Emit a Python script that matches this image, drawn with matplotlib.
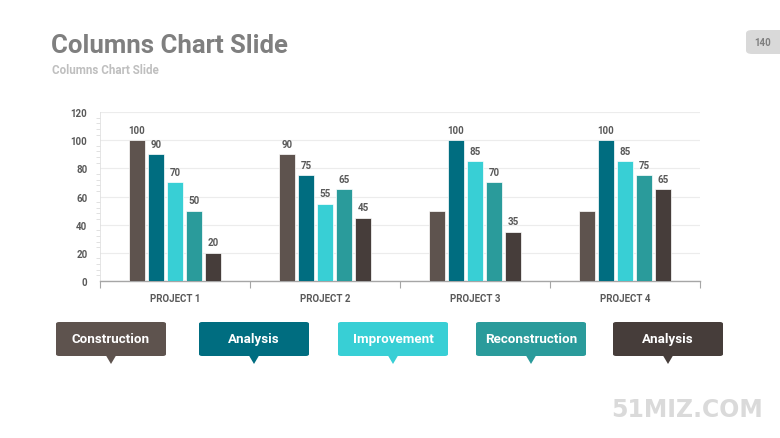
import numpy as np
import matplotlib.pyplot as plt
from matplotlib.patches import FancyBboxPatch, Polygon

projects = ['PROJECT 1', 'PROJECT 2', 'PROJECT 3', 'PROJECT 4']
series_names = ['Construction', 'Analysis', 'Improvement', 'Reconstruction', 'Analysis']
values = [
    [100, 90, 50, 50],
    [90, 75, 100, 100],
    [70, 55, 85, 85],
    [50, 65, 70, 75],
    [20, 45, 35, 65],
]
# the first series has no labels on projects 3 and 4
show_label = [
    [True, True, False, False],
    [True, True, True, True],
    [True, True, True, True],
    [True, True, True, True],
    [True, True, True, True],
]
colors = ['#5e534e', '#006d80', '#38cfd5', '#2a9b9b', '#463d3a']

plt.rcParams['font.family'] = ['Roboto', 'DejaVu Sans']

fig = plt.figure(figsize=(7.8, 4.39), dpi=100)
ax = fig.add_axes([100 / 780, 1 - 282 / 439, 600 / 780, 169 / 439])

x = np.arange(len(projects))
step = 0.127
width = 0.108
for i, vals in enumerate(values):
    pos = x + (i - 2) * step
    ax.bar(pos, vals, width=width, color=colors[i], edgecolor='white', linewidth=0.5, zorder=3)
    for p, v, s in zip(pos, vals, show_label[i]):
        if s:
            ax.text(p, v + 4, str(v), ha='center', va='bottom', fontsize=7,
                    fontweight='bold', color='#595959')

ax.set_xlim(-0.5, 3.5)
ax.set_ylim(0, 120)
ax.set_yticks(range(0, 121, 20))
ax.set_yticks(range(0, 121, 4), minor=True)
ax.yaxis.grid(True, color='#ececec', linewidth=0.8, zorder=0)
ax.tick_params(axis='y', which='major', length=0, labelsize=7, labelcolor='#595959', pad=9)
ax.tick_params(axis='y', which='minor', length=3, color='#dcdcdc', width=0.6)
for lab in ax.get_yticklabels():
    lab.set_fontweight('bold')

ax.set_xticks(x)
ax.set_xticklabels(projects, fontsize=7, fontweight='bold', color='#595959')
ax.tick_params(axis='x', which='major', length=0, pad=9)
ax.set_xticks(np.arange(-0.5, 4, 1), minor=True)
ax.tick_params(axis='x', which='minor', length=5, color='#a6a6a6', width=0.8)

for side in ['top', 'right']:
    ax.spines[side].set_visible(False)
ax.spines['left'].set_color('#e0e0e0')
ax.spines['left'].set_linewidth(0.6)
ax.spines['bottom'].set_color('#a6a6a6')
ax.spines['bottom'].set_linewidth(1.0)

# title area
fig.text(51 / 780, 1 - 46 / 439, 'Columns Chart Slide', fontsize=18.5, fontweight='bold',
         color='#7f7f7f', va='center', ha='left')
fig.text(52 / 780, 1 - 70 / 439, 'Columns Chart Slide', fontsize=8.4, fontweight='bold',
         color='#bfbfbf', va='center', ha='left')

# page number tag
fig.patches.append(FancyBboxPatch((746 / 780, 1 - 55 / 439), 40 / 780, 24 / 439,
                                  boxstyle='round,pad=0,rounding_size=0.008',
                                  transform=fig.transFigure, facecolor='#d9d9d9',
                                  edgecolor='none'))
fig.text(763 / 780, 1 - 43 / 439, '140', fontsize=7, fontweight='bold',
         color='#7f7f7f', va='center', ha='center')

# callout labels
box_left = [56, 199, 338, 476, 613]
for left, name, c in zip(box_left, series_names, colors):
    bx = left / 780
    by = 1 - 357 / 439
    bw = 110 / 780
    bh = 34 / 439
    fig.patches.append(FancyBboxPatch((bx, by), bw, bh,
                                      boxstyle='round,pad=0,rounding_size=0.004',
                                      transform=fig.transFigure, facecolor=c,
                                      edgecolor='none'))
    cx = bx + bw / 2
    tri = Polygon([(cx - 5 / 780, by + 0.001), (cx + 5 / 780, by + 0.001),
                   (cx, 1 - 365 / 439)], closed=True, transform=fig.transFigure,
                  facecolor=c, edgecolor='none')
    fig.patches.append(tri)
    fig.text(cx, by + bh / 2, name, fontsize=9.6, fontweight='bold', color='white',
             ha='center', va='center')

# watermark
fig.text(687 / 780, 1 - 410 / 439, '51MIZ.COM', fontsize=17, fontweight='bold',
         color='#dadada', ha='center', va='center', family='DejaVu Sans')

fig.savefig('out.png', dpi=100)
